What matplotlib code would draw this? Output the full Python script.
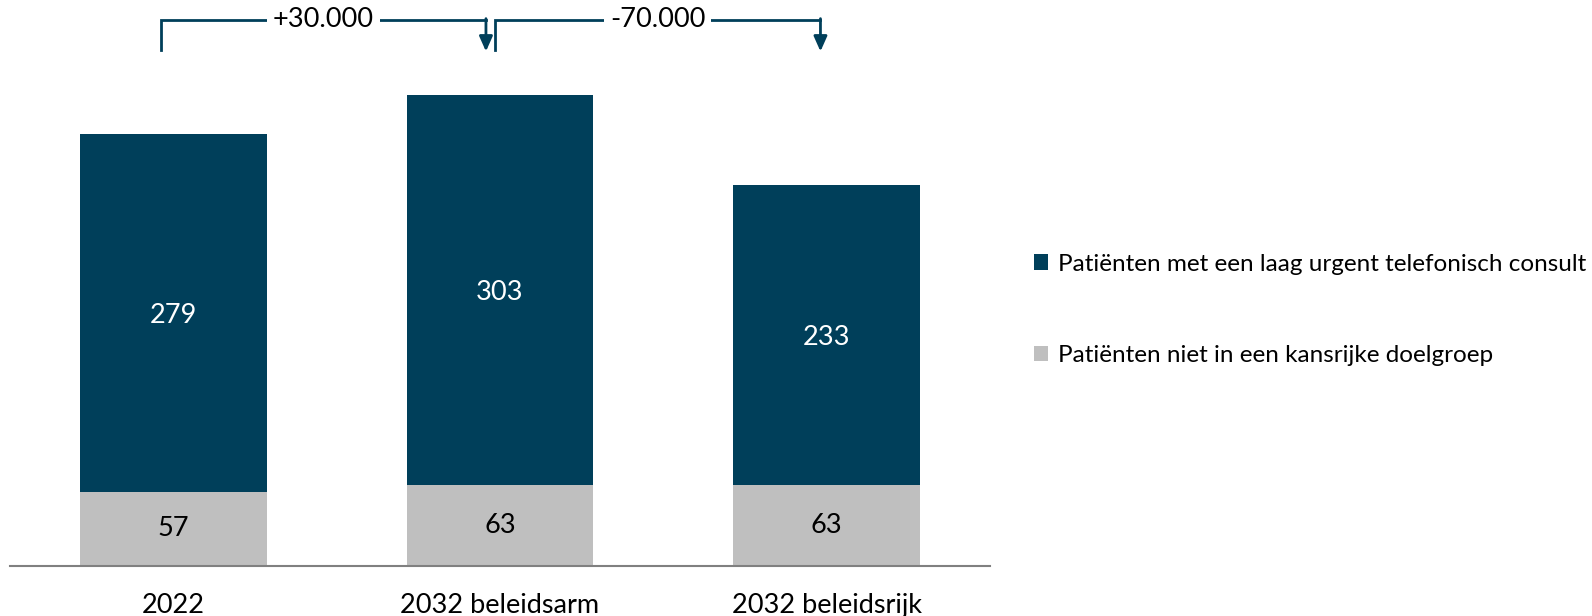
import matplotlib.pyplot as plt
from matplotlib.patches import Patch

plt.rcParams['font.family'] = ['Lato', 'DejaVu Sans']

categories = ["2022", "2032 beleidsarm", "2032 beleidsrijk"]
niet_kansrijk = [57, 63, 63]
laag_urgent = [279, 303, 233]
series_labels = ["Patiënten met een laag urgent telefonisch consult",
                 "Patiënten niet in een kansrijke doelgroep"]
deltas = ["+30.000", "-70.000"]

dark = "#003f5a"
grey = "#bfbfbf"

fig = plt.figure(figsize=(15.92, 6.16), dpi=100)
ax = fig.add_axes([10 / 1592, (616 - 565.5) / 616, 980 / 1592, 565.5 / 616])

x = range(len(categories))
width = 0.571
ax.bar(x, niet_kansrijk, width, color=grey)
ax.bar(x, laag_urgent, width, bottom=niet_kansrijk, color=dark)

for i in x:
    ax.text(i, niet_kansrijk[i] / 2, str(niet_kansrijk[i]), ha="center", va="center",
            fontsize=19.5, color="black")
    ax.text(i, niet_kansrijk[i] + laag_urgent[i] / 2 - 2, str(laag_urgent[i]), ha="center",
            va="center", fontsize=19.5, color="white")

ax.set_xlim(-0.5, 2.5)
ax.set_ylim(0, 440)
ax.set_xticks(list(x))
ax.set_xticklabels(categories, fontsize=19.5)
ax.tick_params(axis="x", length=0, pad=20)
ax.set_yticks([])
for s in ["top", "right", "left"]:
    ax.spines[s].set_visible(False)
ax.spines["bottom"].set_color("#808080")
ax.spines["bottom"].set_linewidth(1.5)

# brackets showing the change between scenarios
y_top, y_low = 424.5, 401
brackets = [(-0.037, 0.957), (0.984, 1.981)]
for (x0, x1), lab in zip(brackets, deltas):
    ax.plot([x0, x0, x1], [y_low, y_top, y_top], color=dark, lw=2, clip_on=False,
            solid_joinstyle="miter")
    ax.annotate("", xy=(x1, y_low - 1), xytext=(x1, y_top + 1),
                arrowprops=dict(arrowstyle="-|>,head_length=0.9,head_width=0.4",
                                color=dark, lw=2, shrinkA=0, shrinkB=0),
                annotation_clip=False)
    ax.text((x0 + x1) / 2, y_top, lab, ha="center", va="center", fontsize=19.5,
            bbox=dict(facecolor="white", edgecolor="none", pad=4), clip_on=False)

handles = [Patch(facecolor=dark), Patch(facecolor=grey)]
fig.legend(handles, series_labels, loc="center left",
           bbox_to_anchor=(1012 / 1592, 1 - 310 / 616), frameon=False, fontsize=17.5,
           handlelength=0.6, handleheight=0.6, handletextpad=0.4, labelspacing=2.9)

fig.savefig("out.png", dpi=100)
